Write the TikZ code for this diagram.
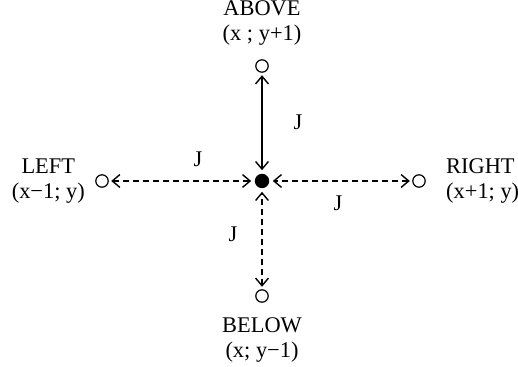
\documentclass[tikz,border=0pt]{standalone}
\usepackage{fontspec}
\setmainfont{Liberation Serif}
\usetikzlibrary{arrows.meta, positioning}

\begin{document}
\begin{tikzpicture}[
    x=0.5pt, y=-0.5pt,
    node distance=6pt,
    every node/.style={font=\fontsize{11.2}{12.6}\selectfont},
    site/.style={circle, draw=black, line width=0.6pt, fill=white, minimum size=6.2pt, inner sep=0pt},
    spin/.style={circle, fill=black, minimum size=7.2pt, inner sep=0pt},
    bond/.style={{Straight Barb[length=3.8pt,width=6.4pt]}-{Straight Barb[length=3.8pt,width=6.4pt]}, line width=0.7pt, shorten <=1.2pt, shorten >=1.6pt},
    bondDash/.style={bond, dash pattern=on 3pt off 2pt},
    lab/.style={align=center, inner sep=0pt},
    coup/.style={inner sep=0pt}
]
\useasboundingbox (0,0) rectangle (518,367);

% ============== SITES ==============
\node[spin] (c)      at (262,181) {};
\node[site] (nAbove) at (262,66)  {};
\node[site] (nBelow) at (262,296) {};
\node[site] (nLeft)  at (102,181) {};
\node[site] (nRight) at (419,181) {};

% ============== LABELS ==============
\node[lab, above=6.5pt of nAbove] (tAbove) {ABOVE\\(x ; y+1)};
\node[lab, below=7pt of nBelow]   (tBelow) {BELOW\\(x; y−1)};
\node[lab, left=5pt of nLeft]     (tLeft)  {LEFT\\(x−1; y)};
\node[lab, align=left, right=10pt of nRight] (tRight) {RIGHT\\(x+1; y)};

% ============== BONDS ==============
\draw[bond]     (nAbove) -- (c);
\draw[bondDash] (nBelow) -- (c);
\draw[bondDash] (nLeft)  -- (c);
\draw[bondDash] (nRight) -- (c);

% ============== COUPLINGS ==============
\node[coup] (jAbove) at (298,122) {J};
\node[coup] (jLeft)  at (198,159) {J};
\node[coup] (jRight) at (338,203) {J};
\node[coup] (jBelow) at (233,234) {J};
\end{tikzpicture}
\end{document}
